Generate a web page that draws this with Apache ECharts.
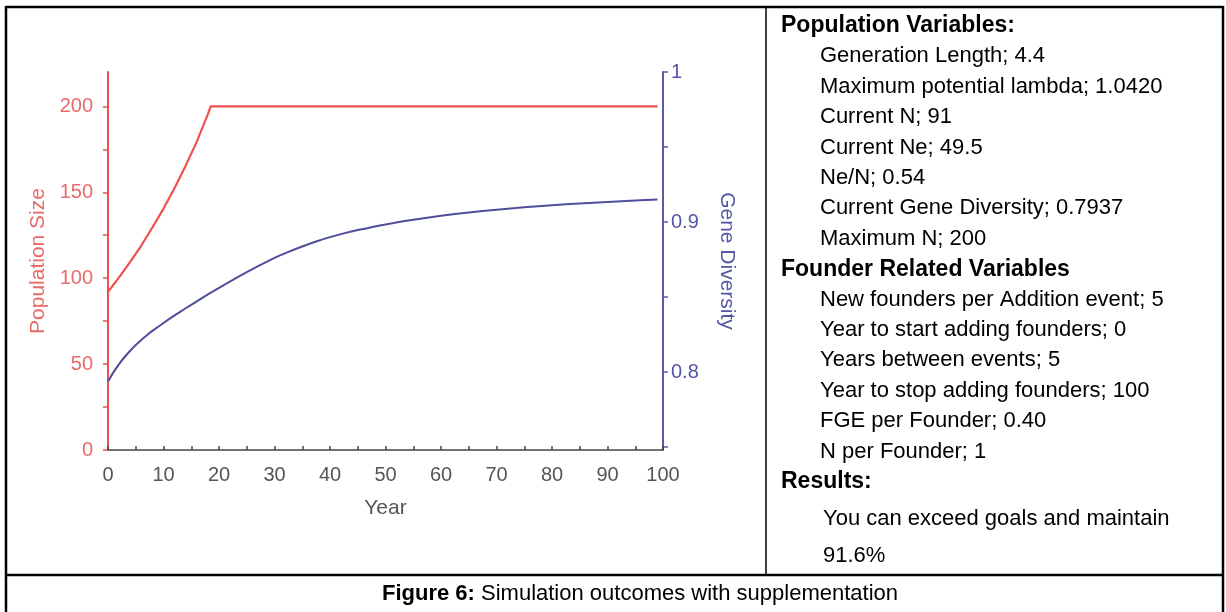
<!DOCTYPE html>
<html>
<head>
<meta charset="utf-8">
<script src="https://cdn.jsdelivr.net/npm/echarts@6/dist/echarts.min.js"></script>
<style>
  html, body { margin: 0; padding: 0; background: #fff; }
  #chart { width: 1226px; height: 612px; }
</style>
</head>
<body>
<div id="chart"></div>
<script>
// ---- data ----
const popYears = [0, 2, 4, 6, 8, 10, 12, 14, 16, 18, 18.5, 99];
const popSize  = [92, 100.5, 109.5, 119, 129.5, 140.5, 152.5, 165.5, 179.5, 195.5, 200, 200];

const genYears = [0, 1, 2, 3, 4, 5, 6, 7, 8, 10, 12, 14, 16, 18, 20, 25, 30, 32.5, 35, 37.5,
                  40, 42.5, 45, 50, 55, 60, 65, 70, 75, 80, 85, 90, 95, 99];
const geneDiv  = [0.7937, 0.7999, 0.8053, 0.8100, 0.8142, 0.8180, 0.8214, 0.8245, 0.8274, 0.8327,
                  0.8377, 0.8425, 0.8471, 0.8517, 0.8561, 0.8666, 0.8761, 0.8801, 0.8837, 0.8870,
                  0.8899, 0.8924, 0.8946, 0.8984, 0.9015, 0.9042, 0.9064, 0.9082, 0.9098, 0.9112,
                  0.9124, 0.9134, 0.9143, 0.9150];

const xTicks = [0, 5, 10, 15, 20, 25, 30, 35, 40, 45, 50, 55, 60, 65, 70, 75, 80, 85, 90, 95, 100];
const xLabels = [0, 10, 20, 30, 40, 50, 60, 70, 80, 90, 100];
const leftTicks = [0, 25, 50, 75, 100, 125, 150, 175, 200];
const leftLabels = [0, 50, 100, 150, 200];
const rightTicks = [0.75, 0.8, 0.85, 0.9, 0.95, 1];
const rightLabels = [0.8, 0.9, 1];

const xName = 'Year';
const leftName = 'Population Size';
const rightName = 'Gene Diversity';

const headerPop = 'Population Variables:';
const popVars = [
  'Generation Length; 4.4',
  'Maximum potential lambda; 1.0420',
  'Current N; 91',
  'Current Ne; 49.5',
  'Ne/N; 0.54',
  'Current Gene Diversity; 0.7937',
  'Maximum N; 200'
];
const headerFounder = 'Founder Related Variables';
const founderVars = [
  'New founders per Addition event; 5',
  'Year to start adding founders; 0',
  'Years between events; 5',
  'Year to stop adding founders; 100',
  'FGE per Founder; 0.40',
  'N per Founder; 1'
];
const headerResults = 'Results:';
const resultLines = ['You can exceed goals and maintain', '91.6%'];
const captionBold = 'Figure 6:';
const captionText = ' Simulation outcomes with supplementation';

// ---- build ----
const FONT = '"Liberation Sans", Arial, sans-serif';
const RED = '#ee5050';
const RED_TXT = '#e86a6a';
const BLUE = '#4e4e9a';
const BLUE_AX = '#5a5aaa';
const BLUE_TXT = '#5555a5';

const popData = popYears.map((x, i) => [x, popSize[i]]);
const genData = genYears.map((x, i) => [x, geneDiv[i]]);

// panel text elements
const panel = [];
const hx = 781, ix = 820, lh = 30.4;
let y = 26;
function header(t) {
  panel.push({ type: 'text', x: hx, y: y, style: { text: t, font: 'bold 23px ' + FONT, fill: '#000', textVerticalAlign: 'middle' } });
  y += lh;
}
function item(t, x) {
  panel.push({ type: 'text', x: x || ix, y: y, style: { text: t, font: '22px ' + FONT, fill: '#000', textVerticalAlign: 'middle' } });
  y += lh;
}
header(headerPop);
popVars.forEach(t => item(t));
header(headerFounder);
founderVars.forEach(t => item(t));
header(headerResults);
y = 519; item(resultLines[0], 823);
y = 556; item(resultLines[1], 823);

const borders = [
  { type: 'line', shape: { x1: 6, y1: 7, x2: 1223, y2: 7 }, style: { stroke: '#000', lineWidth: 2.5 } },
  { type: 'line', shape: { x1: 6, y1: 6, x2: 6, y2: 612 }, style: { stroke: '#000', lineWidth: 2.5 } },
  { type: 'line', shape: { x1: 1223, y1: 6, x2: 1223, y2: 612 }, style: { stroke: '#000', lineWidth: 2.5 } },
  { type: 'line', shape: { x1: 6, y1: 575, x2: 1223, y2: 575 }, style: { stroke: '#000', lineWidth: 2.5 } },
  { type: 'line', shape: { x1: 766, y1: 7, x2: 766, y2: 575 }, style: { stroke: '#000', lineWidth: 1.5 } },
  { type: 'text', x: 640, y: 594, style: {
      text: '{b|' + captionBold + '}' + captionText,
      font: '22px ' + FONT, fill: '#000', align: 'center', verticalAlign: 'middle',
      rich: { b: { font: 'bold 22px ' + FONT, fill: '#000' } }
  } }
];

const chart = echarts.init(document.getElementById('chart'));
chart.setOption({
  backgroundColor: '#fff',
  animation: false,
  grid: { left: 108, right: 563, top: 72, bottom: 162, containLabel: false },
  xAxis: {
    type: 'value', min: 0, max: 100,
    name: xName, nameLocation: 'middle', nameGap: 48,
    nameTextStyle: { color: '#555', fontSize: 21, fontFamily: FONT },
    axisLine: { show: true, lineStyle: { color: '#444', width: 1.5 } },
    axisTick: { show: true, inside: true, length: 4, customValues: xTicks, lineStyle: { color: '#444', width: 1.5 } },
    axisLabel: { customValues: xLabels, color: '#555', fontSize: 20, fontFamily: FONT, margin: 15 },
    splitLine: { show: false }
  },
  yAxis: [
    {
      type: 'value', min: 0, max: 220, position: 'left',
      name: leftName, nameLocation: 'middle', nameGap: 59, nameRotate: 90,
      nameTextStyle: { color: RED_TXT, fontSize: 21, fontFamily: FONT },
      axisLine: { show: true, lineStyle: { color: RED, width: 2 } },
      axisTick: { show: true, length: 5, customValues: leftTicks, lineStyle: { color: RED, width: 1.5 } },
      axisLabel: { customValues: leftLabels, color: RED_TXT, fontSize: 20, fontFamily: FONT, margin: 15 },
      splitLine: { show: false }
    },
    {
      type: 'value', min: 0.748, max: 1, position: 'right',
      name: rightName, nameLocation: 'middle', nameGap: 53, nameRotate: -90,
      nameTextStyle: { color: BLUE_TXT, fontSize: 21, fontFamily: FONT },
      axisLine: { show: true, lineStyle: { color: BLUE_AX, width: 2 } },
      axisTick: { show: true, length: 5, customValues: rightTicks, lineStyle: { color: BLUE_AX, width: 1.5 } },
      axisLabel: { customValues: rightLabels, color: BLUE_TXT, fontSize: 20, fontFamily: FONT, margin: 8,
        formatter: v => String(+v.toFixed(2)) },
      splitLine: { show: false }
    }
  ],
  series: [
    { type: 'line', yAxisIndex: 0, data: popData, showSymbol: false, smooth: false,
      lineStyle: { color: RED, width: 2.2 }, itemStyle: { color: RED } },
    { type: 'line', yAxisIndex: 1, data: genData, showSymbol: false, smooth: 0.2,
      lineStyle: { color: BLUE, width: 2 }, itemStyle: { color: BLUE } }
  ],
  graphic: { elements: borders.concat(panel) }
});
</script>
</body>
</html>
